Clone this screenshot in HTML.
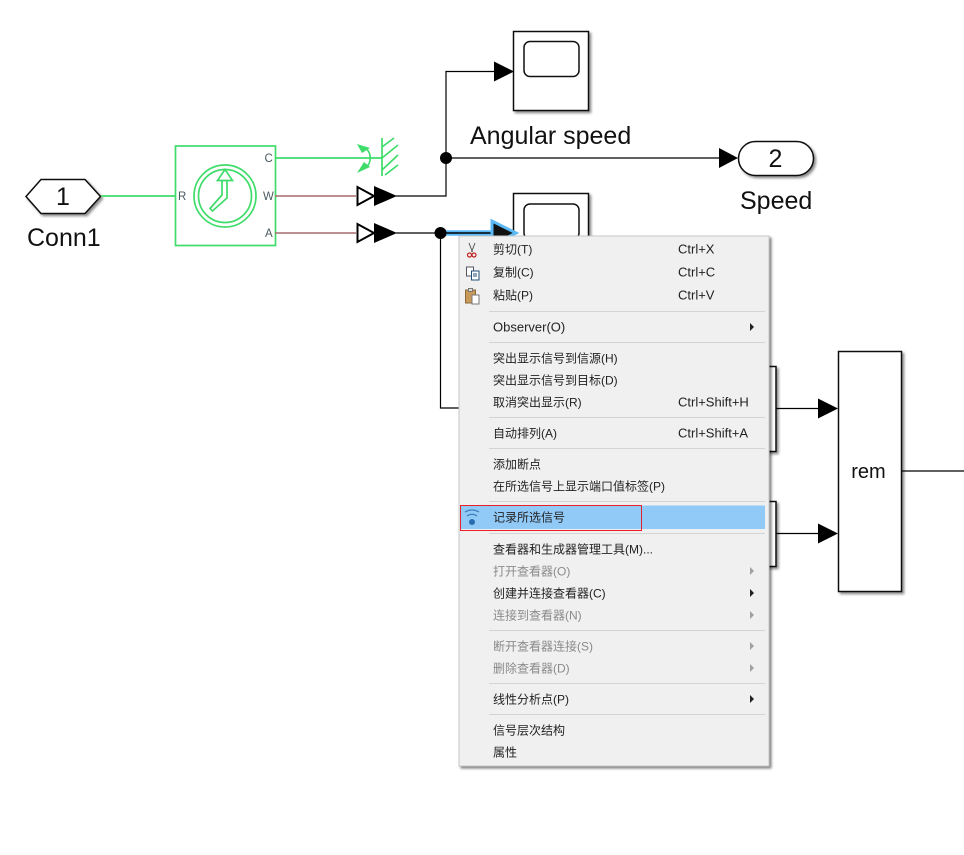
<!DOCTYPE html>
<html><head><meta charset="utf-8">
<style>
html,body{margin:0;padding:0;background:#fff;width:964px;height:855px;overflow:hidden}
svg{display:block;position:absolute;left:0;top:0}
.l{font-family:"Liberation Sans",sans-serif;fill:#111}
.m{font-family:"Liberation Sans","Noto Sans CJK SC",sans-serif;font-size:12px;fill:#222}
.k{font-family:"Liberation Sans",sans-serif;font-size:13px;fill:#222}
.d{fill:#8a8a8a}
.p{font-family:"Liberation Sans",sans-serif;font-size:11.5px;fill:#4a5a60}
</style></head><body>
<svg width="964" height="855" viewBox="0 0 964 855" xmlns="http://www.w3.org/2000/svg">
<defs>
<filter id="s" x="-20%" y="-20%" width="150%" height="150%"><feDropShadow dx="2" dy="2" stdDeviation="1.2" flood-color="#000" flood-opacity=".45"/></filter>
<filter id="ms" x="-5%" y="-5%" width="110%" height="110%"><feDropShadow dx="2" dy="2" stdDeviation="1.2" flood-color="#000" flood-opacity=".5"/></filter>
</defs>

<!-- scope blocks -->
<g fill="#fff" stroke="#111" stroke-width="1.5">
<rect x="513.5" y="31.5" width="75" height="79" filter="url(#s)"/>
<rect x="524" y="41.5" width="55" height="35" rx="6"/>
<rect x="513.5" y="193.5" width="75" height="79" filter="url(#s)"/>
<rect x="524" y="204" width="55" height="35" rx="6"/>
<rect x="700" y="366.5" width="76" height="85" filter="url(#s)"/>
<rect x="700" y="501.5" width="76" height="65" filter="url(#s)"/>
<rect x="838.5" y="351.5" width="63" height="240" filter="url(#s)"/>
<rect x="738.5" y="141.500" width="75" height="34" rx="17" filter="url(#s)"/>
<polygon points="26,196.500 41,179.500 85,179.500 100.500,196.500 85,213.500 41,213.500" filter="url(#s)"/>
</g>

<!-- black lines -->
<g fill="none" stroke="#000" stroke-width="1.2">
<path d="M396 196H446V71.500H494"/>
<path d="M446 158H719"/>
<path d="M396 233H492"/>
<path d="M440.500 233V408H470"/>
<path d="M776 408.500H819"/>
<path d="M776 533.500H819"/>
<path d="M902 471H964"/>
</g>

<!-- highlighted arrow -->
<path d="M440 233H493" stroke="#5ab8f5" stroke-width="5.5" fill="none"/>
<path d="M440 233H493" stroke="#000" stroke-width="1.4" fill="none"/>
<polygon points="492,221 492,245 516,233" fill="#111" stroke="#5ab8f5" stroke-width="3"/>

<!-- arrowheads -->
<g fill="#000">
<polygon points="494,61.500 494,81.500 514,71.500"/>
<polygon points="719,148 719,168 738,158"/>
<polygon points="818,398.500 818,418.500 838,408.500"/>
<polygon points="818,523.500 818,543.500 838,533.500"/>
<circle cx="446" cy="158" r="6"/>
<circle cx="440.500" cy="233" r="6"/>
<polygon points="374,186 374,206 397,196"/>
<polygon points="374,223 374,243 397,233"/>
</g>
<g fill="#fff" stroke="#000" stroke-width="2">
<polygon points="357.500,187 357.500,205 374,196"/>
<polygon points="357.500,224 357.500,242 374,233"/>
</g>

<!-- green part -->
<g fill="none" stroke="#3fdc6b" stroke-width="1.700">
<path d="M101 196H176"/>
<rect x="175.500" y="146" width="100" height="99.500"/>
<path d="M275 158H382"/>
<circle cx="225" cy="196" r="31"/>
<circle cx="225" cy="196" r="26.500"/>
<path d="M222 180V195L210 208.500l2.500 2.500L227 198V180"/>
<path d="M217.500 180.500L225 169.500L232.500 180.500Z"/>
<path d="M382 138V176M382 147L394 138M382 158L398 145M382 170L398 155M385 175L398 165"/>
<path d="M365 148C372 152 372 164 365 168"/>
</g>
<g fill="#3fdc6b"><polygon points="357,144 370,148 362,153"/><polygon points="357,173 370,167 364,162"/></g>
<g stroke="#a86a6e" stroke-width="1.500" fill="none">
<path d="M275 196H356"/><path d="M275 233H356"/>
</g>
<text class="p" x="178" y="200">R</text>
<text class="p" x="264.500" y="162">C</text>
<text class="p" x="263" y="200">W</text>
<text class="p" x="265" y="237">A</text>

<!-- labels -->
<g class="l">
<text x="63" y="205" font-size="25" text-anchor="middle">1</text>
<text x="27" y="246" font-size="25">Conn1</text>
<text x="470" y="144" font-size="25">Angular speed</text>
<text x="775.500" y="167" font-size="25" text-anchor="middle">2</text>
<text x="740" y="209" font-size="25">Speed</text>
<text x="868.500" y="478" font-size="20" text-anchor="middle">rem</text>
</g>

<!-- context menu -->
<rect x="459" y="236" width="310" height="530" fill="#f0f0f0" stroke="#c8c8c8" filter="url(#ms)"/>
<rect x="461" y="505.500" width="304" height="23.500" fill="#91c9f7"/>
<rect x="460.500" y="505.500" width="181" height="25" fill="none" stroke="#e8202a"/>
<g stroke="#d4d4d4" stroke-width="1">
<path d="M489 311.500H765M489 342.500H765M489 417.500H765M489 448.500H765M489 501.500H765M489 533.500H765M489 630.500H765M489 683.500H765M489 714.500H765"/>
</g>

<g class="m">
<text x="493" y="253.500">剪切(T)</text>
<text x="493" y="276.500">复制(C)</text>
<text x="493" y="299.500">粘贴(P)</text>
<text x="493" y="331.500" class="k">Observer(O)</text>
<text x="493" y="362.500">突出显示信号到信源(H)</text>
<text x="493" y="384.500">突出显示信号到目标(D)</text>
<text x="493" y="406.500">取消突出显示(R)</text>
<text x="493" y="437.500">自动排列(A)</text>
<text x="493" y="468.500">添加断点</text>
<text x="493" y="490.500">在所选信号上显示端口值标签(P)</text>
<text x="493" y="521.500">记录所选信号</text>
<text x="493" y="553.500">查看器和生成器管理工具(M)...</text>
<text x="493" y="575.500" class="m d">打开查看器(O)</text>
<text x="493" y="597.500">创建并连接查看器(C)</text>
<text x="493" y="619.500" class="m d">连接到查看器(N)</text>
<text x="493" y="650.500" class="m d">断开查看器连接(S)</text>
<text x="493" y="672.500" class="m d">删除查看器(D)</text>
<text x="493" y="703.500">线性分析点(P)</text>
<text x="493" y="734.500">信号层次结构</text>
<text x="493" y="756.500">属性</text>
<text x="678" y="253.500" class="k">Ctrl+X</text>
<text x="678" y="276.500" class="k">Ctrl+C</text>
<text x="678" y="299.500" class="k">Ctrl+V</text>
<text x="678" y="406.500" class="k">Ctrl+Shift+H</text>
<text x="678" y="437.500" class="k">Ctrl+Shift+A</text>
</g>

<!-- submenu arrows -->
<g fill="#222">
<polygon points="750,323 750,331 754,327"/>
<polygon points="750,589 750,597 754,593"/>
<polygon points="750,695 750,703 754,699"/>
</g>
<g fill="#a0a0a0">
<polygon points="750,567 750,575 754,571"/>
<polygon points="750,611 750,619 754,615"/>
<polygon points="750,642 750,650 754,646"/>
<polygon points="750,664 750,672 754,668"/>
</g>

<!-- menu icons -->
<g fill="none">
<path d="M469 243L472.500 252M475 243L471.500 252" stroke="#555" stroke-width="1"/>
<circle cx="469.500" cy="255" r="2" stroke="#c02020" stroke-width="1.200"/>
<circle cx="474" cy="255" r="2" stroke="#c02020" stroke-width="1.200"/>
<rect x="466.500" y="267" width="7" height="9" fill="#fff" stroke="#556"/>
<rect x="471.500" y="271" width="7.500" height="9" fill="#fff" stroke="#1f4e79"/>
<path d="M473 274H477M473 276H477" stroke="#1f4e79"/>
<rect x="465.500" y="290" width="10" height="13" fill="#c89a5a" stroke="#8a6a3a"/>
<rect x="468.500" y="288.500" width="4" height="3" fill="#ddd" stroke="#777"/>
<rect x="472" y="295" width="7" height="9" fill="#fff" stroke="#777"/>
<path d="M465 512Q472 508 479 512M467 516Q472 512.500 477 516" stroke="#3c80bb" stroke-width="1.200"/>
<circle cx="472" cy="522" r="3" fill="#2a6cb0"/>
</g>
</svg>
</body></html>
